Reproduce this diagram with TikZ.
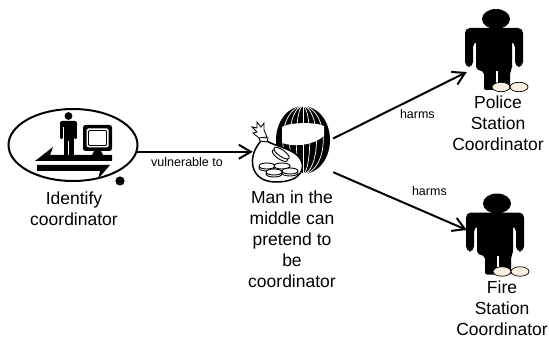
\documentclass[tikz,border=0pt]{standalone}
\usepackage{fontspec}
\setmainfont{Liberation Sans}
\usetikzlibrary{arrows.meta,shapes.geometric}
\definecolor{footcream}{RGB}{247,240,224}

\begin{document}
\begin{tikzpicture}[x=1pt,y=-1pt,
  conn/.style={line width=2pt,-{Straight Barb[length=12pt,width=14pt]}},
  lbl/.style={font=\fontsize{17.5}{21}\selectfont,align=center,inner sep=0pt,anchor=north},
  elbl/.style={font=\fontsize{12.5}{14}\selectfont,inner sep=0pt},
  anchorbox/.style={draw=none,inner sep=0pt,rectangle},
  skin/.style={fill=footcream,draw=black,line width=0.7pt},
  coin/.style={fill=white,draw=black,line width=0.9pt},
  person/.pic={
    % head
    \fill (0,0) ellipse [x radius=14pt, y radius=10pt];
    % shoulders and arms
    \fill[rounded corners=5pt] (-31,48) -- (-31,9) -- (27,9) -- (27,48)
      -- (19,48) -- (19,23) -- (-23,23) -- (-23,48) -- cycle;
    % trunk and legs
    \fill[rounded corners=2pt] (-20,12) -- (16,12) -- (16,50) -- (14,53) -- (14,71)
      -- (-12,71) -- (-12,53) -- (-20,50) -- cycle;
    \draw[white,line width=1.6pt] (1,52) -- (1,72);
    % feet
    \draw[skin] (5,68) ellipse [x radius=9pt, y radius=4.7pt];
    \draw[skin] (23,68) ellipse [x radius=9pt, y radius=4.7pt];
  }]

\useasboundingbox (0,0) rectangle (549,342);

% ---------- Identify coordinator ----------
\node[ellipse,draw,line width=2pt,minimum width=129pt,minimum height=72pt,inner sep=0pt] (ident) at (73,145) {};
% operator at the desk
\fill (68.5,116) circle (3.9pt);
\fill[rounded corners=2pt] (60,121) rectangle (77,127);
\draw[line width=2.5pt,line cap=round] (61.3,124) -- (61.3,138) (75.7,124) -- (75.7,138);
\fill (63.5,121) rectangle (73.5,141);
\fill (63.5,140) rectangle (68,156);
\fill (69,140) rectangle (73.5,156);
% monitor
\fill[rounded corners=2.5pt] (83,125) rectangle (112,151);
\fill[white,rounded corners=1.5pt] (86.5,128.5) rectangle (108.5,147.5);
\draw[line width=0.8pt,rounded corners=1pt] (88.5,130.5) rectangle (106.5,145.5);
\fill (94,151) -- (101,151) -- (103,155) -- (92,155) -- cycle;
% two-way bars
\fill (35,161) -- (53,147) -- (50,155) -- (112,155) -- (112,161) -- cycle;
\fill (37,165) -- (110,165) -- (98,179) -- (100,171) -- (37,171) -- cycle;
\fill (120,181) circle (4.6pt);
\node[lbl] (identtxt) at (74,192) {Identify\\coordinator};

% ---------- Man in the middle ----------
% balaclava
\fill (303,140) ellipse [x radius=27pt, y radius=34pt];
\foreach \k in {-0.75,-0.5,-0.25,0.25,0.5,0.75}
  \draw[white,line width=0.7pt] (303,106) arc [start angle=90, end angle=-90, x radius=\k*27pt, y radius=34pt];
\draw[white,line width=0.7pt] (303,106) -- (303,174);
\fill[white] (282,127) .. controls (290,122) and (316,122) .. (324,126)
  -- (324,136) .. controls (312,146) and (294,147) .. (282,143) -- cycle;
% money bag
\filldraw[fill=white,line width=1.5pt] (261,141) .. controls (247,156) and (249,182) .. (276,182)
  .. controls (302,182) and (307,167) .. (299,157) .. controls (291,148) and (274,146) .. (267,141) -- cycle;
\filldraw[fill=white,line width=0.9pt] (259,137) -- (268,138) -- (267,142) -- (260,141) -- cycle;
\filldraw[fill=white,line width=0.8pt] (259,138) -- (253,133) -- (257,132) -- (252,127) -- (257,128)
  -- (257,122) -- (261,127) -- (264,123) -- (264,130) -- (267,137) -- cycle;
% coins
\filldraw[coin,rotate around={-35:(281,154)}] (281,156) ellipse [x radius=9pt, y radius=3.3pt];
\filldraw[coin,rotate around={-35:(281,154)}] (281,153) ellipse [x radius=9pt, y radius=3.3pt];
\foreach \cx/\cy in {267/166, 282/166, 274/172, 290/171} {
  \filldraw[coin] (\cx,\cy+2) ellipse [x radius=8pt, y radius=3pt];
  \filldraw[coin] (\cx,\cy) ellipse [x radius=8pt, y radius=3pt];
}
\node[anchorbox,minimum width=80pt,minimum height=67pt] (mitm) at (293,138.5) {};
\node[lbl] (mitmtxt) at (292,191) {Man in the\\middle can\\pretend to\\be\\coordinator};

% ---------- coordinators ----------
\pic at (496,19) {person};
\node[anchorbox,minimum width=60pt,minimum height=40pt] (police) at (497,72) {};
\node[lbl] (policetxt) at (498,96) {Police\\Station\\Coordinator};

\pic at (497,203.5) {person};
\node[anchorbox,minimum width=60pt,minimum height=40pt] (fire) at (497,230) {};
\node[lbl] (firetxt) at (502,281) {Fire\\Station\\Coordinator};

% ---------- connectors ----------
\draw[conn] (ident.-6) -- (ident.-6 -| mitm.west)
  node[elbl,pos=0.43,below=5pt] (lvuln) {vulnerable to};
\draw[conn] (mitm.east) -- (police.west)
  node[elbl,pos=0.63,below=12pt] (lharm1) {harms};
\draw[conn] (mitm.south east) -- (fire.west)
  node[elbl,pos=0.72,above=17pt] (lharm2) {harms};
\end{tikzpicture}
\end{document}
